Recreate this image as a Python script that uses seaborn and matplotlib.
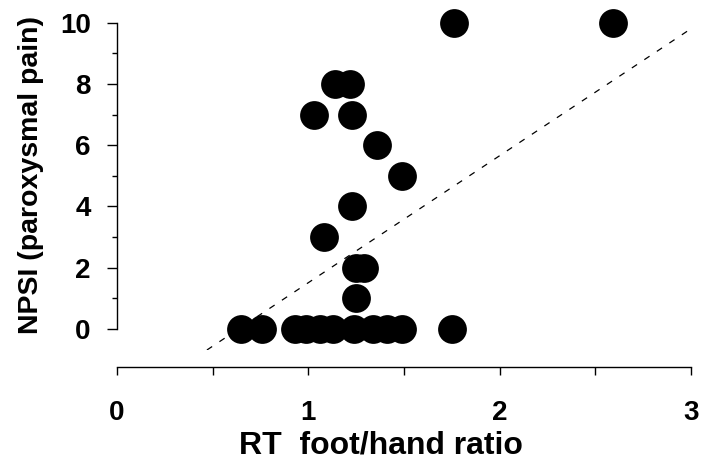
import pandas as pd
import seaborn as sns
import matplotlib.pyplot as plt
from matplotlib.ticker import MultipleLocator

# Data
rt_ratio = [1.76, 2.59, 1.14, 1.22, 1.03, 1.23, 1.36, 1.49, 1.23, 1.08,
            1.25, 1.29, 1.25,
            0.65, 0.76, 0.93, 0.99, 1.06, 1.13, 1.24, 1.34, 1.41, 1.49, 1.75]
npsi_pain = [10, 10, 8, 8, 7, 7, 6, 5, 4, 3,
             2, 2, 1,
             0, 0, 0, 0, 0, 0, 0, 0, 0, 0, 0]

# dashed fit line
fit_slope = 4.15
fit_intercept = -2.64

df = pd.DataFrame({"ratio": rt_ratio, "npsi": npsi_pain})

sns.set_style("ticks")
plt.rcParams['font.family'] = ['Liberation Sans', 'DejaVu Sans']
plt.rcParams['font.weight'] = 'bold'
plt.rcParams['text.color'] = 'black'
plt.rcParams['axes.labelcolor'] = 'black'
plt.rcParams['xtick.color'] = 'black'
plt.rcParams['ytick.color'] = 'black'

fig = plt.figure(figsize=(7.14, 4.61), dpi=100)
ax = fig.add_axes([0.1639, 0.2408, 0.8039, 0.7288])

sns.scatterplot(data=df, x="ratio", y="npsi", ax=ax, s=430,
                color="black", edgecolor="black", linewidth=0, clip_on=False,
                zorder=3)

ax.axline((0, fit_intercept), slope=fit_slope, color="black",
          linestyle=(0, (5, 7)), linewidth=0.9)

ax.set_xlim(0, 3)
ax.set_ylim(-0.69, 10.29)

# spines
ax.spines['top'].set_visible(False)
ax.spines['right'].set_visible(False)
ax.spines['left'].set_bounds(0, 10)
ax.spines['bottom'].set_position(('outward', 12))
for sp in ['left', 'bottom']:
    ax.spines[sp].set_linewidth(1.0)
    ax.spines[sp].set_color('black')

ax.xaxis.set_major_locator(MultipleLocator(1))
ax.xaxis.set_minor_locator(MultipleLocator(0.5))
ax.yaxis.set_major_locator(MultipleLocator(2))
ax.yaxis.set_minor_locator(MultipleLocator(1))

ax.tick_params(axis='x', which='both', length=6, width=1, direction='out',
               color='black', labelsize=20, pad=18, labelcolor='black')
ax.tick_params(axis='y', which='major', length=7, width=1, direction='out',
               color='black', labelsize=20, pad=12, labelcolor='black')
ax.tick_params(axis='y', which='minor', length=3.6, width=1, direction='out',
               color='black')
for lab in ax.get_xticklabels() + ax.get_yticklabels():
    lab.set_fontweight('bold')

ax.set_xlabel("RT  foot/hand ratio", fontsize=23, fontweight='bold',
              color='black', labelpad=0)
ax.xaxis.set_label_coords(0.46, -0.24)
ax.set_ylabel("NPSI (paroxysmal pain)", fontsize=20.5, fontweight='bold',
              color='black')
ax.yaxis.set_label_coords(-0.128, 0.52)

fig.savefig("out.png", dpi=100)
